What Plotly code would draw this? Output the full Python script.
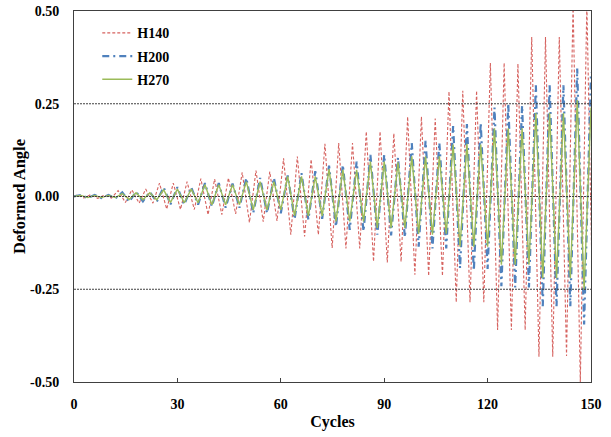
import plotly.graph_objects as go

# ---------------- data ----------------
# H140: peak / trough value of every cycle (3 cycles per amplitude step)
h140_peaks = [0.004, 0.005, 0.004, 0.016, 0.018, 0.020, 0.036, 0.036, 0.040,
              0.048, 0.047, 0.050, 0.065, 0.070, 0.067, 0.103, 0.108, 0.100,
              0.142, 0.144, 0.144, 0.175, 0.175, 0.170, 0.215, 0.215, 0.210,
              0.283, 0.285, 0.285, 0.360, 0.360, 0.358, 0.430, 0.430, 0.430,
              0.520, 0.520]
h140_troughs = [-0.004, -0.005, -0.004, -0.016, -0.018, -0.018, -0.034, -0.035, -0.035,
                -0.049, -0.049, -0.047, -0.070, -0.068, -0.066, -0.103, -0.108, -0.103,
                -0.139, -0.140, -0.140, -0.175, -0.178, -0.176, -0.211, -0.214, -0.214,
                -0.285, -0.285, -0.285, -0.360, -0.360, -0.360, -0.432, -0.432, -0.430,
                -0.500, -0.500]

# H200
h200_peaks = [0.004, 0.004, 0.004, 0.011, 0.013, 0.012, 0.025, 0.025, 0.025,
              0.036, 0.036, 0.035, 0.050, 0.050, 0.050, 0.057, 0.063, 0.068,
              0.083, 0.085, 0.094, 0.112, 0.112, 0.105, 0.144, 0.150, 0.145,
              0.190, 0.195, 0.198, 0.240, 0.250, 0.245, 0.300, 0.300, 0.300,
              0.345, 0.335]
h200_troughs = [-0.004, -0.004, -0.005, -0.014, -0.013, -0.014, -0.021, -0.022, -0.022,
                -0.027, -0.030, -0.030, -0.045, -0.045, -0.045, -0.061, -0.062, -0.060,
                -0.081, -0.090, -0.094, -0.103, -0.105, -0.110, -0.135, -0.140, -0.140,
                -0.193, -0.200, -0.195, -0.242, -0.245, -0.245, -0.296, -0.296, -0.296,
                -0.345]

# H270
h270_peaks = [0.003, 0.003, 0.003, 0.008, 0.010, 0.010, 0.018, 0.020, 0.020,
              0.032, 0.032, 0.032, 0.040, 0.040, 0.040, 0.054, 0.054, 0.054,
              0.074, 0.072, 0.072, 0.094, 0.094, 0.092, 0.108, 0.108, 0.108,
              0.140, 0.142, 0.140, 0.184, 0.184, 0.184, 0.225, 0.225, 0.225,
              0.260, 0.240]
h270_troughs = [-0.003, -0.003, -0.003, -0.008, -0.009, -0.009, -0.016, -0.017, -0.017,
                -0.022, -0.022, -0.022, -0.036, -0.036, -0.036, -0.052, -0.052, -0.052,
                -0.067, -0.067, -0.067, -0.085, -0.085, -0.085, -0.100, -0.103, -0.100,
                -0.135, -0.135, -0.135, -0.184, -0.184, -0.184, -0.220, -0.220, -0.220,
                -0.251]

# cycle positions of the extremes (one loading cycle spans 4 units)
h140_peak_at, h140_trough_at = 0.8, 2.9
h200_peak_at, h200_trough_at = 2.0, 4.0
h270_peak_at, h270_trough_at = 2.0, 4.0

series_names = ["H140", "H200", "H270"]
ref_levels = [-0.25, 0.0, 0.25]
x_ticks = [0, 30, 60, 90, 120, 150]
y_ticks = [-0.50, -0.25, 0.00, 0.25, 0.50]
y_tick_text = ["-0.50", "-0.25", "0.00", "0.25", "0.50"]


def zigzag(peaks, troughs, p0, t0):
    pts = [(0.0, 0.0)]
    for k, v in enumerate(peaks):
        pts.append((p0 + 4 * k, v))
    for k, v in enumerate(troughs):
        pts.append((t0 + 4 * k, v))
    pts.sort()
    return [p[0] for p in pts], [p[1] for p in pts]


FONT = "Liberation Serif"

fig = go.Figure()

styles = [
    dict(color="#D6625F", width=1.1, dash="3px,2px"),
    dict(color="#4F81BD", width=2.2, dash="7px,4px,2px,4px"),
    dict(color="#9BBB59", width=1.4, dash="solid"),
]
data = [
    zigzag(h140_peaks, h140_troughs, h140_peak_at, h140_trough_at),
    zigzag(h200_peaks, h200_troughs, h200_peak_at, h200_trough_at),
    zigzag(h270_peaks, h270_troughs, h270_peak_at, h270_trough_at),
]

for name, (xs, ys), st in zip(series_names, data, styles):
    fig.add_trace(go.Scatter(x=xs, y=ys, mode="lines", name=name, line=st,
                             legendgroup=name))

for lv in ref_levels:
    fig.add_shape(type="line", xref="paper", x0=0, x1=1, yref="y", y0=lv, y1=lv,
                  line=dict(color="#404040", width=1, dash="2px,1px"), layer="above")

fig.update_layout(
    width=611, height=437,
    margin=dict(l=74, r=20, t=11, b=55),
    paper_bgcolor="white", plot_bgcolor="white",
    font=dict(family=FONT, size=14, color="black", weight="bold"),
    showlegend=True,
    legend=dict(x=0.045, y=0.983, xanchor="left", yanchor="top",
                bgcolor="rgba(0,0,0,0)", tracegroupgap=2,
                font=dict(family=FONT, size=14, color="black", weight="bold"),
                itemwidth=30),
    xaxis=dict(range=[0, 150], tickvals=x_ticks, ticks="inside", ticklen=4,
               tickcolor="#404040", showline=True, linecolor="#404040", linewidth=1,
               mirror=True, showgrid=False, zeroline=False, automargin=False,
               ticklabelstandoff=9,
               tickfont=dict(family=FONT, size=14, weight="bold"),
               title=dict(text="Cycles", standoff=5,
                          font=dict(family=FONT, size=16, weight="bold"))),
    yaxis=dict(range=[-0.5, 0.5], tickvals=y_ticks, ticktext=y_tick_text, ticks="",
               showline=True, linecolor="#404040", linewidth=1, mirror=True,
               showgrid=False, zeroline=False, automargin=False, ticklabelstandoff=11,
               tickfont=dict(family=FONT, size=14, weight="bold"),
               title=dict(text="Deformed Angle", standoff=0,
                          font=dict(family=FONT, size=16.5, weight="bold"))),
)

fig.write_html("out.html")
